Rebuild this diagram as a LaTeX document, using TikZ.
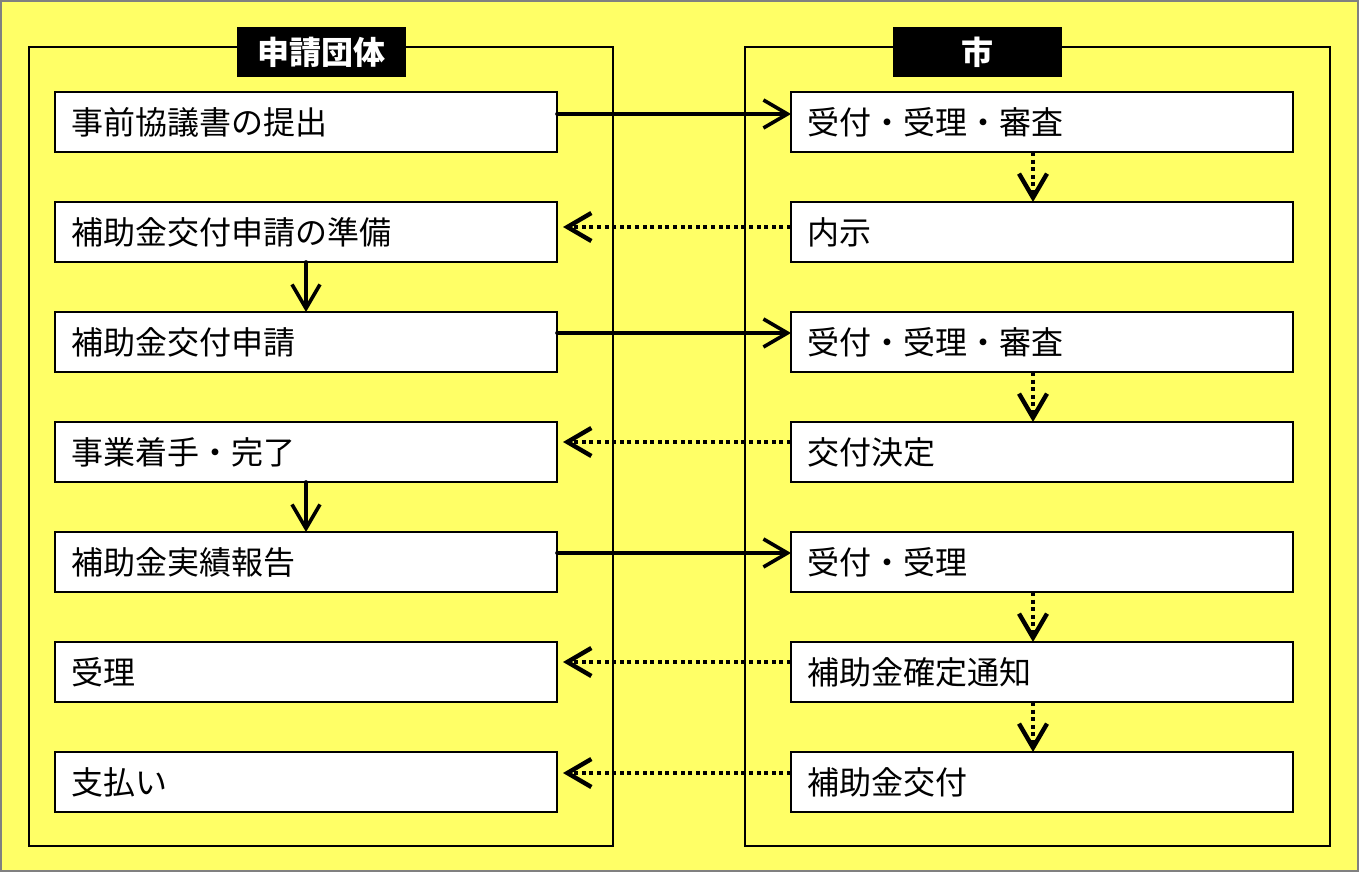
\documentclass[tikz,border=0pt]{standalone}
\usepackage{fontspec}
\setmainfont{Noto Sans CJK JP}
\usetikzlibrary{positioning,arrows.meta}
\definecolor{paper}{HTML}{FFFF66}

\begin{document}
\begin{tikzpicture}[x=0.5pt,y=-0.5pt]
	\tikzset{step box/.style={draw,
				rectangle,
				fill=white,
				line width=1pt,
				outer sep=0pt,
				minimum width=251pt,
				minimum height=30pt,
				inner xsep=7.5pt,
				text width=235pt,
				align=left,
				font=\fontsize{16pt}{19pt}\selectfont},
			party/.style={fill=black,
				text=white,
				minimum width=84.5pt,
				minimum height=25pt,
				font=\fontsize{16pt}{19pt}\selectfont\bfseries},
			lane/.style={draw,
				line width=0.8pt},
			arrow/.style={-{Straight Barb[length=12pt,width=14pt]},
				line width=1.8pt,
				line cap=round},
			reply/.style={arrow,
				line width=2.2pt,
				dash pattern=on 2pt off 1.8pt,
				line cap=butt}}
	\useasboundingbox (0,0) rectangle (1359,872);
	\draw[fill=paper, draw=gray, line width=1pt] (1,1) rectangle (1358,871);
	\draw[lane] (29,47) rectangle (613,846);
	\draw[lane] (745,47) rectangle (1330,846);
	\node[party] (group) at (321.5,52) {申請団体};
	\node[party] (city) at (977.5,52) {市};
	
	% Nodes
	\node[step box, anchor=north west] (a1) at (55,92) {事前協議書の提出};
	\node[step box, below=25pt of a1] (a2) {補助金交付申請の準備};
	\node[step box, below=25pt of a2] (a3) {補助金交付申請};
	\node[step box, below=25pt of a3] (a4) {事業着手・完了};
	\node[step box, below=25pt of a4] (a5) {補助金実績報告};
	\node[step box, below=25pt of a5] (a6) {受理};
	\node[step box, below=25pt of a6] (a7) {支払い};
	
	\node[step box, right=117pt of a1] (b1) {受付・受理・審査};
	\node[step box, right=117pt of a2] (b2) {内示};
	\node[step box, right=117pt of a3] (b3) {受付・受理・審査};
	\node[step box, right=117pt of a4] (b4) {交付決定};
	\node[step box, right=117pt of a5] (b5) {受付・受理};
	\node[step box, right=117pt of a6] (b6) {補助金確定通知};
	\node[step box, right=117pt of a7] (b7) {補助金交付};
	
	% Arrows
	\draw[arrow] ([yshift=4pt]a1.east) -- ([yshift=4pt]b1.west);
	\draw[arrow] ([yshift=4.5pt]a3.east) -- ([yshift=4.5pt]b3.west);
	\draw[arrow] ([yshift=4.5pt]a5.east) -- ([yshift=4.5pt]b5.west);
	\draw[arrow] (a2.south) -- (a3.north);
	\draw[arrow] (a4.south) -- (a5.north);
	
	\draw[reply, shorten >=3pt] ([yshift=2.5pt]b2.west) -- ([yshift=2.5pt]a2.east);
	\draw[reply, shorten >=3pt] ([yshift=5pt]b4.west) -- ([yshift=5pt]a4.east);
	\draw[reply, shorten >=3pt] ([yshift=5pt]b6.west) -- ([yshift=5pt]a6.east);
	\draw[reply, shorten >=3pt] ([yshift=4.5pt]b7.west) -- ([yshift=4.5pt]a7.east);
	\draw[reply] ([xshift=-4.5pt]b1.south) -- ([xshift=-4.5pt]b2.north);
	\draw[reply] ([xshift=-4.5pt]b3.south) -- ([xshift=-4.5pt]b4.north);
	\draw[reply] ([xshift=-4.5pt]b5.south) -- ([xshift=-4.5pt]b6.north);
	\draw[reply] ([xshift=-4.5pt]b6.south) -- ([xshift=-4.5pt]b7.north);
\end{tikzpicture}
\end{document}
